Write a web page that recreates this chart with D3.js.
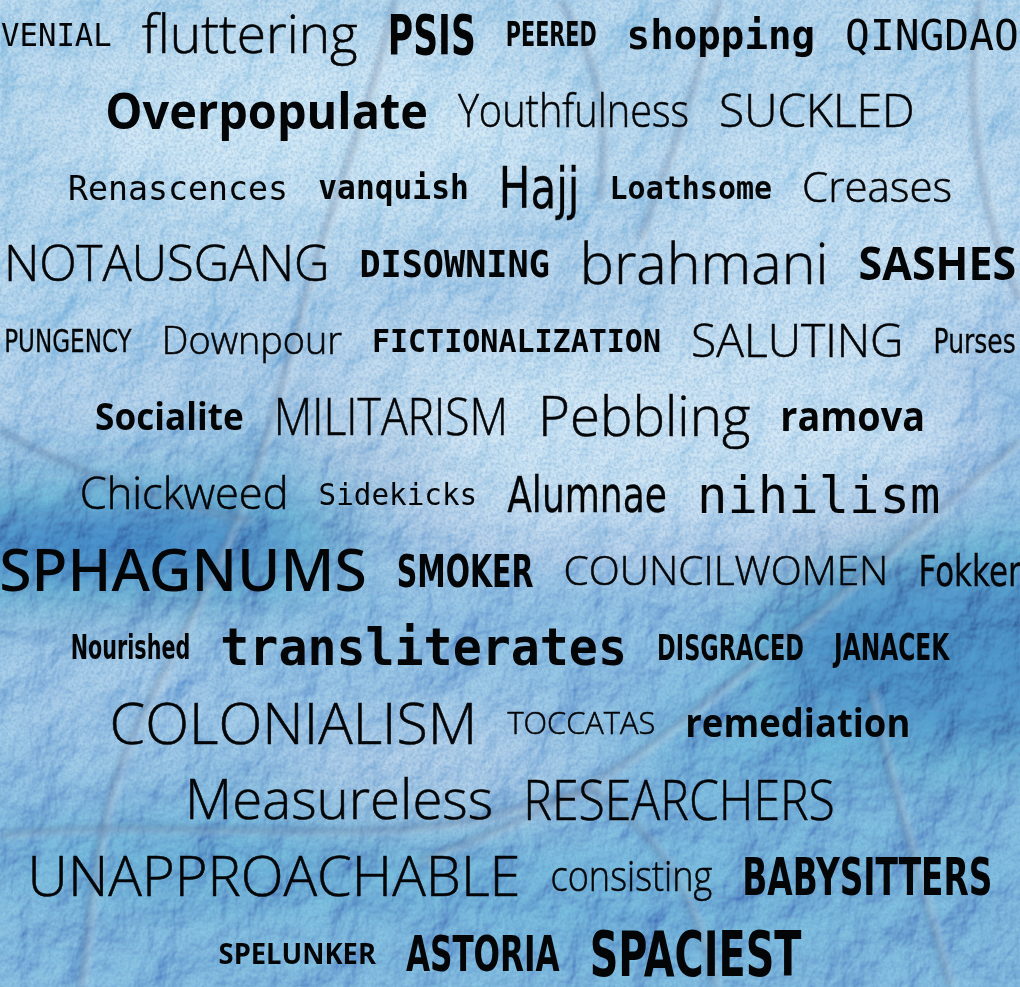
<!DOCTYPE html>
<html>
<head>
<meta charset="utf-8">
<script src="https://cdn.jsdelivr.net/npm/d3@7/dist/d3.min.js"></script>
<style>
  html, body { margin: 0; padding: 0; background: #8fbfe0; overflow: hidden; }
  svg { display: block; }
</style>
</head>
<body>
<svg id="cloud" width="1020" height="987"></svg>
<script>
// words of the cloud
const words = [
  'VENIAL', 'fluttering', 'PSIS', 'PEERED', 'shopping', 'QINGDAO',
  'Overpopulate', 'Youthfulness', 'SUCKLED',
  'Renascences', 'vanquish', 'Hajj', 'Loathsome', 'Creases',
  'NOTAUSGANG', 'DISOWNING', 'brahmani', 'SASHES',
  'PUNGENCY', 'Downpour', 'FICTIONALIZATION', 'SALUTING', 'Purses',
  'Socialite', 'MILITARISM', 'Pebbling', 'ramova',
  'Chickweed', 'Sidekicks', 'Alumnae', 'nihilism',
  'SPHAGNUMS', 'SMOKER', 'COUNCILWOMEN', 'Fokker',
  'Nourished', 'transliterates', 'DISGRACED', 'JANACEK',
  'COLONIALISM', 'TOCCATAS', 'remediation',
  'Measureless', 'RESEARCHERS',
  'UNAPPROACHABLE', 'consisting', 'BABYSITTERS',
  'SPELUNKER', 'ASTORIA', 'SPACIEST'
]
// which line each word sits on
const rowOf = [
  0, 0, 0, 0, 0, 0,
  1, 1, 1,
  2, 2, 2, 2, 2,
  3, 3, 3, 3,
  4, 4, 4, 4, 4,
  5, 5, 5, 5,
  6, 6, 6, 6,
  7, 7, 7, 7,
  8, 8, 8, 8,
  9, 9, 9,
  10, 10,
  11, 11, 11,
  12, 12, 12
]
// weight of each word (estimated cap height in the picture)
const weights = [
  23, 38, 40, 24, 30, 31,
  36, 33, 33,
  25, 24, 42, 23, 30,
  35, 27, 41, 33,
  23, 27, 23, 33, 25,
  27, 37, 39, 29,
  31, 22, 36, 38,
  42, 33, 29, 31,
  24, 37, 26, 27,
  41, 22, 28,
  39, 40,
  40, 30, 38,
  21, 36, 46
]
// typeface family of each word: L light, B bold, R regular, M mono, MB mono bold,
// C condensed, CB condensed bold, CL condensed light
const faces = [
  'M', 'L', 'CB', 'CB', 'MB', 'M',
  'B', 'CL', 'L',
  'M', 'MB', 'C', 'MB', 'L',
  'L', 'MB', 'L', 'B',
  'C', 'L', 'MB', 'L', 'C',
  'B', 'CL', 'L', 'B',
  'L', 'M', 'C', 'M',
  'R', 'CB', 'L', 'C',
  'CB', 'MB', 'CB', 'CB',
  'L', 'L', 'B',
  'L', 'CL',
  'L', 'CL', 'CB',
  'B', 'CB', 'CB'
]

const faceStyle = {
  L:  { family: "'Open Sans', 'Noto Sans', sans-serif", weight: 300, cap: 0.714, fit: 1.0, stroke: 0.55 },
  B:  { family: "'Open Sans', 'Noto Sans', sans-serif", weight: 700, cap: 0.714, fit: 0.93, stroke: 0 },
  R:  { family: "'Noto Sans', 'Open Sans', sans-serif", weight: 500, cap: 0.714, fit: 1.0, stroke: 0 },
  M:  { family: "'DejaVu Sans Mono', monospace", weight: 400, cap: 0.729, fit: 0.97, stroke: 0 },
  MB: { family: "'DejaVu Sans Mono', monospace", weight: 700, cap: 0.729, fit: 0.95, stroke: 0 },
  C:  { family: "'DejaVu Sans', sans-serif", weight: 400, cap: 0.729, fit: 0.73, stroke: 0.3 },
  CB: { family: "'DejaVu Sans', sans-serif", weight: 700, cap: 0.729, fit: 0.63, stroke: 0 },
  CL: { family: "'Open Sans', 'Noto Sans', sans-serif", weight: 300, cap: 0.714, fit: 0.86, stroke: 0.55 }
}

const W = 1020, H = 987
const svg = d3.select('#cloud')
const defs = svg.append('defs')

// ---- crumpled blue paper background ----
const grad = defs.append('linearGradient')
  .attr('id', 'paper').attr('x1', 0).attr('y1', 0).attr('x2', 0.25).attr('y2', 1)
grad.selectAll('stop')
  .data([[0, '#92c4e4'], [0.3, '#8abee2'], [0.5, '#78aad8'], [0.7, '#6a9cd2'], [1, '#5f92cb']])
  .enter().append('stop')
  .attr('offset', d => d[0]).attr('stop-color', d => d[1])

defs.append('filter').attr('id', 'soft').attr('x', '-50%').attr('y', '-50%').attr('width', '200%').attr('height', '200%')
  .append('feGaussianBlur').attr('stdDeviation', 36)
defs.append('filter').attr('id', 'crease').attr('x', '-10%').attr('y', '-10%').attr('width', '120%').attr('height', '120%')
  .append('feGaussianBlur').attr('stdDeviation', 3.2)

// embossed crinkle made from noise and a distant light (flat areas come out mid grey)
const crinkle = defs.append('filter').attr('id', 'crinkle')
  .attr('x', 0).attr('y', 0).attr('width', '100%').attr('height', '100%')
crinkle.append('feTurbulence').attr('type', 'fractalNoise')
  .attr('baseFrequency', '0.02 0.015').attr('numOctaves', 5).attr('seed', 11).attr('result', 'n')
crinkle.append('feDiffuseLighting').attr('in', 'n').attr('surfaceScale', 11)
  .attr('diffuseConstant', 0.64).attr('lighting-color', '#ffffff')
  .append('feDistantLight').attr('azimuth', 235).attr('elevation', 52)

// fine mottled grain
const grain = defs.append('filter').attr('id', 'grain')
  .attr('x', 0).attr('y', 0).attr('width', '100%').attr('height', '100%')
grain.append('feTurbulence').attr('type', 'fractalNoise')
  .attr('baseFrequency', 0.35).attr('numOctaves', 2).attr('seed', 3)
grain.append('feColorMatrix').attr('type', 'matrix')
  .attr('values', '0 0 0 0 0.12  0 0 0 0 0.3  0 0 0 0 0.6  0 0 0 -2.2 1.3')

svg.append('rect').attr('width', W).attr('height', H).attr('fill', 'url(#paper)')

const blobs = svg.append('g').attr('filter', 'url(#soft)')
blobs.selectAll('ellipse')
  .data([
    [330, 130, 260, 90, '#c2e2f3', 0.7],
    [860, 230, 200, 120, '#bcdff2', 0.65],
    [640, 430, 330, 110, '#c4e4f4', 0.75],
    [110, 545, 240, 55, '#29599a', 0.95],
    [330, 470, 120, 60, '#5489c2', 0.5],
    [950, 650, 200, 110, '#2e619b', 0.85],
    [760, 740, 120, 60, '#4479b8', 0.55],
    [260, 860, 300, 45, '#3e72b0', 0.65],
    [640, 900, 200, 70, '#4c80bf', 0.6],
    [120, 700, 150, 60, '#86b8df', 0.5],
    [430, 760, 160, 50, '#9ccae8', 0.55],
    [880, 880, 150, 90, '#5586c2', 0.65]
  ])
  .enter().append('ellipse')
  .attr('cx', d => d[0]).attr('cy', d => d[1])
  .attr('rx', d => d[2]).attr('ry', d => d[3])
  .attr('fill', d => d[4]).attr('opacity', d => d[5])

svg.append('rect').attr('width', W).attr('height', H)
  .attr('filter', 'url(#crinkle)').attr('opacity', 0.75)
  .style('mix-blend-mode', 'overlay')
svg.append('rect').attr('width', W).attr('height', H)
  .attr('filter', 'url(#grain)').attr('opacity', 0.35)

const creaseLines = [
  'M395,0 C370,110 330,210 312,273 S280,400 255,470 S190,620 140,720 S95,900 80,987',
  'M720,0 C700,70 675,150 640,240',
  'M1020,440 C950,500 860,580 770,650 S640,760 560,800 S470,840 420,860',
  'M0,835 C120,820 260,835 380,830 S520,800 600,790',
  'M590,790 C640,820 690,870 715,987',
  'M870,690 C890,780 920,880 950,987',
  'M0,430 C70,470 150,500 250,520',
  'M560,0 C600,60 610,120 600,200',
  'M980,0 C960,120 990,240 1020,300'
]
const creases = svg.append('g').attr('filter', 'url(#crease)').attr('fill', 'none')
creases.selectAll('path.hi').data(creaseLines).enter().append('path')
  .attr('class', 'hi').attr('d', d => d)
  .attr('transform', 'translate(4,2)')
  .attr('stroke', '#d9eef9').attr('stroke-width', 4).attr('opacity', 0.5)
creases.selectAll('path.lo').data(creaseLines).enter().append('path')
  .attr('class', 'lo').attr('d', d => d)
  .attr('stroke', '#1f4a80').attr('stroke-width', 4.5).attr('opacity', 0.5)

// ---- the words ----
const nRows = d3.max(rowOf) + 1
const yRow = d3.scaleLinear().domain([0, nRows - 1]).range([34, 953])
const fontPx = i => weights[i] / faceStyle[faces[i]].cap
const gap = 30

const items = words.map((w, i) => ({ word: w, row: rowOf[i], face: faceStyle[faces[i]], size: fontPx(i), cap: weights[i] }))

const text = svg.append('g').selectAll('text')
  .data(items)
  .enter().append('text')
  .text(d => d.word)
  .attr('font-family', d => d.face.family)
  .attr('font-weight', d => d.face.weight)
  .attr('font-size', d => d.size.toFixed(1) + 'px')
  .attr('fill', '#040507')
  .attr('stroke', d => d.face.stroke ? '#040507' : null)
  .attr('stroke-width', d => d.face.stroke || null)

// measure, then squeeze horizontally to the face proportions
text.each(function (d) {
  d.width = this.getComputedTextLength() * d.face.fit
})

d3.groups(items, d => d.row).forEach(([row, list]) => {
  const total = d3.sum(list, d => d.width) + gap * (list.length - 1)
  let x = W / 2 - total / 2
  list.forEach(d => { d.x = x; x += d.width + gap })
})

text.attr('transform', d =>
  `translate(${d.x.toFixed(1)},${(yRow(d.row) + d.cap / 2).toFixed(1)}) scale(${d.face.fit},1)`)
</script>
</body>
</html>
